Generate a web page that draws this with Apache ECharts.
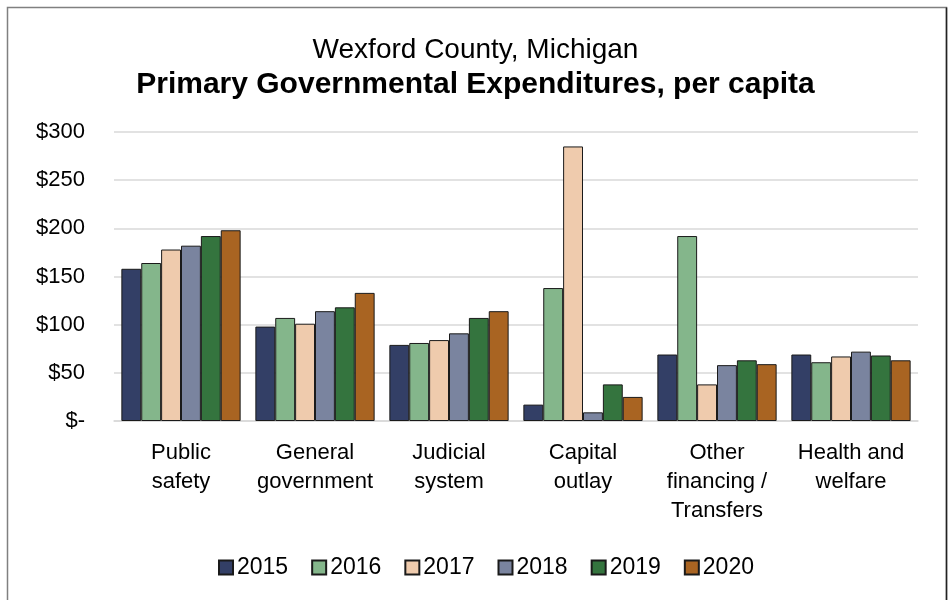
<!DOCTYPE html>
<html>
<head>
<meta charset="utf-8">
<script src="https://cdn.jsdelivr.net/npm/echarts@6/dist/echarts.min.js"></script>
<style>
  html, body { margin: 0; padding: 0; background: #fff; }
  #chart { width: 951px; height: 600px; }
</style>
</head>
<body>
<div id="chart"></div>
<script>
const categories = ["Public\nsafety", "General\ngovernment", "Judicial\nsystem", "Capital\noutlay", "Other\nfinancing /\nTransfers", "Health and\nwelfare"];
const years = ["2015", "2016", "2017", "2018", "2019", "2020"];
const v2015 = [158, 98, 79, 17, 69, 69];
const v2016 = [164, 107, 81, 138, 192, 61];
const v2017 = [178, 101, 84, 285, 38, 67];
const v2018 = [182, 114, 91, 9, 58, 72];
const v2019 = [192, 118, 107, 38, 63, 68];
const v2020 = [198, 133, 114, 25, 59, 63];
const yTicks = [0, 50, 100, 150, 200, 250, 300];
const colors = ["#333F66", "#84B68B", "#EFCBAD", "#7A849F", "#34743E", "#A96422"];
const seriesValues = [v2015, v2016, v2017, v2018, v2019, v2020];

const chart = echarts.init(document.getElementById('chart'), null, { renderer: 'canvas' });
const font = "Liberation Sans, Arial, sans-serif";

chart.setOption({
  backgroundColor: '#ffffff',
  animation: false,
  textStyle: { fontFamily: font },
  graphic: [
    { type: 'rect', shape: { x: 7.5, y: 7.5, width: 939, height: 620 }, style: { fill: 'none', stroke: '#808080', lineWidth: 1.5 } },
    { type: 'line', shape: { x1: 946.5, y1: 7.5, x2: 946.5, y2: 600 }, style: { stroke: '#222222', lineWidth: 1.5 } }
  ],
  title: [
    { text: 'Wexford County, Michigan', left: 'center', top: 31, textStyle: { fontFamily: font, fontSize: 28, fontWeight: 'normal', color: '#000' } },
    { text: 'Primary Governmental Expenditures, per capita', left: 'center', top: 65, textStyle: { fontFamily: font, fontSize: 30, fontWeight: 'bold', color: '#000' } }
  ],
  legend: {
    data: years,
    top: 551,
    left: 213,
    itemWidth: 14,
    itemHeight: 14,
    itemGap: 23,
    icon: 'rect',
    textStyle: { fontFamily: font, fontSize: 23, color: '#000', padding: [0, 0, 0, -1] }
  },
  grid: { left: 114, right: 33, top: 132, bottom: 179, containLabel: false },
  xAxis: {
    type: 'category',
    data: categories,
    axisLine: { show: true, lineStyle: { color: '#d9d9d9', width: 1.5 } },
    axisTick: { show: false },
    axisLabel: { fontFamily: font, fontSize: 22, color: '#000', lineHeight: 29, margin: 17, interval: 0 }
  },
  yAxis: {
    type: 'value',
    min: yTicks[0],
    max: yTicks[yTicks.length - 1],
    interval: 50,
    axisLine: { show: false },
    axisTick: { show: false },
    splitLine: { lineStyle: { color: '#d9d9d9', width: 1.5 } },
    axisLabel: {
      fontFamily: font, fontSize: 22, color: '#000', margin: 29,
      formatter: function (v) { return v === 0 ? '$-' : '$' + v; }
    }
  },
  series: years.map(function (y, i) {
    return {
      name: y,
      type: 'bar',
      data: seriesValues[i],
      barGap: '0%',
      barCategoryGap: '11%',
      itemStyle: { color: colors[i], borderColor: '#1a1a1a', borderWidth: 1 }
    };
  })
});
</script>
</body>
</html>
